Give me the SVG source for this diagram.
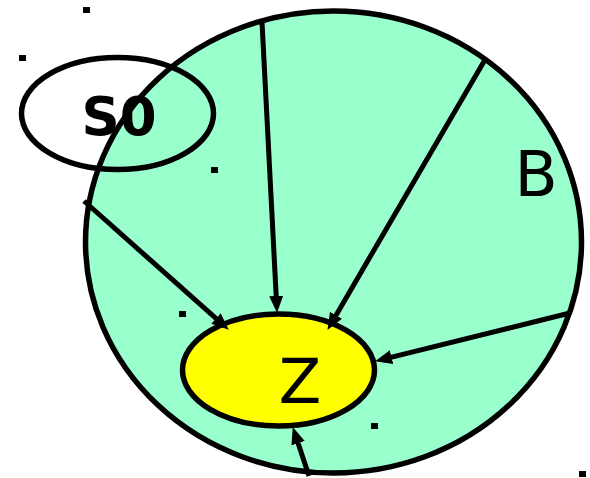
<svg xmlns="http://www.w3.org/2000/svg" width="590" height="478" viewBox="0 0 590 478">
<style>
.shape{stroke:#000;stroke-width:5.5}
.edge{stroke:#000;stroke-width:5;fill:none;marker-end:url(#ah)}
.dot{fill:#000}
.lbl{font-family:"DejaVu Sans",sans-serif;fill:#000}
</style>
<defs>
<marker id="ah" markerUnits="userSpaceOnUse" markerWidth="19" markerHeight="15" refX="6" refY="7" orient="auto">
<path d="M0,0 L17,7 L0,14 z" fill="#000"/>
</marker>
</defs>
<rect width="590" height="478" fill="#fff"/>
<g id="B">
<ellipse class="shape" cx="333.5" cy="242" rx="248" ry="231" fill="#99FFCC"/>
<text class="lbl" x="536" y="196" font-size="63" text-anchor="middle">B</text>
</g>
<g id="S0">
<ellipse class="shape" cx="117.5" cy="113.5" rx="96" ry="56" fill="none"/>
<text class="lbl" x="119" y="135" font-size="53" font-weight="bold" text-anchor="middle">S0</text>
</g>
<g id="Z">
<ellipse class="shape" cx="278.5" cy="370" rx="96" ry="56" fill="#FFFF00"/>
<text class="lbl" x="300" y="403" font-size="62" text-anchor="middle">Z</text>
</g>
<g id="connectors">
<line class="edge" x1="84" y1="201" x2="220.5" y2="322.4"/>
<line class="edge" x1="262" y1="22" x2="276.5" y2="302"/>
<line class="edge" x1="486" y1="58" x2="333" y2="320.4"/>
<line class="edge" x1="570" y1="313" x2="385.7" y2="358.6"/>
<line class="edge" x1="309" y1="476" x2="296.2" y2="437.5"/>
</g>
<g id="marks">
<rect class="dot" x="83" y="7" width="7" height="6"/>
<rect class="dot" x="19" y="55" width="7" height="6"/>
<rect class="dot" x="211" y="167" width="7" height="6"/>
<rect class="dot" x="179" y="311" width="7" height="6"/>
<rect class="dot" x="371" y="423" width="7" height="6"/>
<rect class="dot" x="579" y="471" width="7" height="6"/>
</g>
</svg>
